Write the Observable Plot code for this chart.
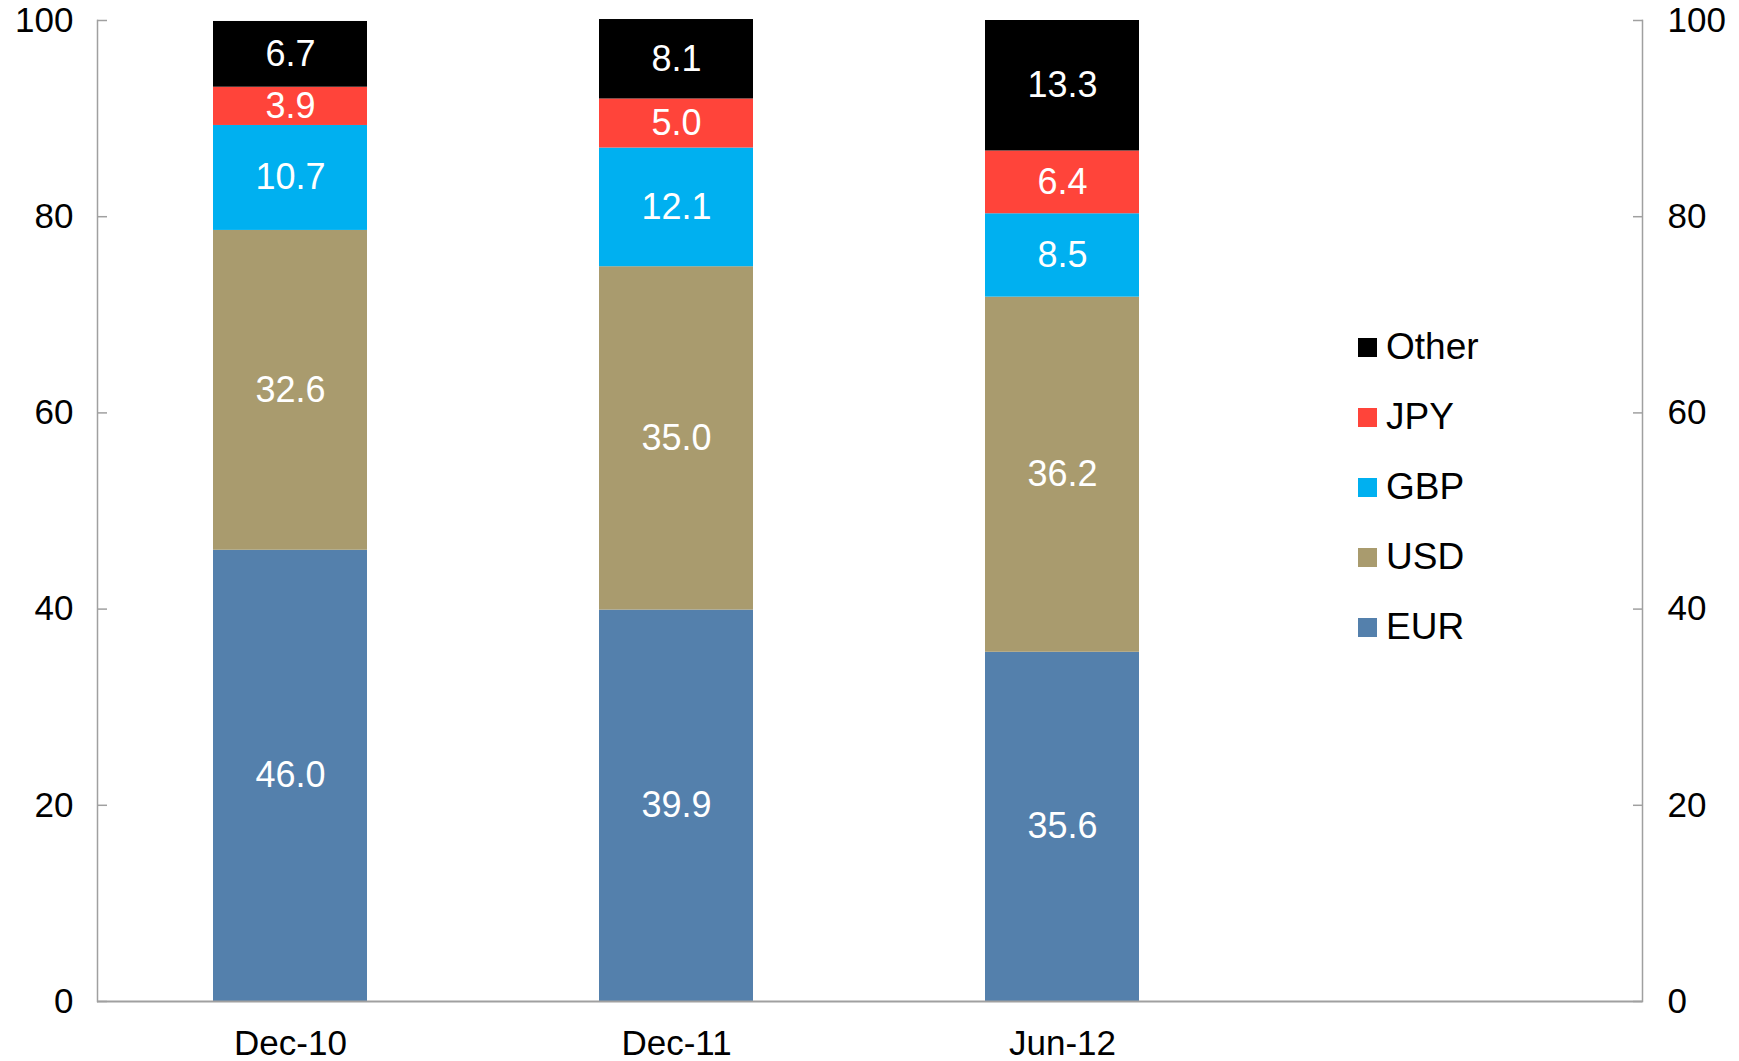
<!DOCTYPE html>
<html>
<head>
<meta charset="utf-8">
<script src="https://cdn.jsdelivr.net/npm/d3@7"></script>
<script src="https://cdn.jsdelivr.net/npm/@observablehq/plot@0.6"></script>
<style>
  html, body { margin: 0; padding: 0; background: #fff; }
  #wrap { position: relative; width: 1739px; height: 1061px; font-family: "Liberation Sans", Arial, sans-serif; }
  #legend { position: absolute; left: 1358px; top: 312px; }
  .lg-row { display: flex; align-items: center; height: 70px; font-size: 37px; color: #000; }
  .lg-sw { width: 19px; height: 19px; margin-right: 9px; }
</style>
</head>
<body>
<div id="wrap"><div id="legend"></div></div>
<script>
const categories = ["Dec-10", "Dec-11", "Jun-12"];
const series = ["EUR", "USD", "GBP", "JPY", "Other"];
const colors = ["#5480AC", "#A99B6E", "#00B0F0", "#FF443A", "#000000"];
const EUR = [46.0, 39.9, 35.6];
const USD = [32.6, 35.0, 36.2];
const GBP = [10.7, 12.1, 8.5];
const JPY = [3.9, 5.0, 6.4];
const Other = [6.7, 8.1, 13.3];
const yTicks = [0, 20, 40, 60, 80, 100];

const seriesValues = {EUR, USD, GBP, JPY, Other};
const data = [];
categories.forEach((c, i) => {
  series.forEach(s => data.push({cat: c, series: s, value: seriesValues[s][i]}));
});

const xDomain = [...categories, " "];
const font = "Liberation Sans, Arial, sans-serif";

const chart = Plot.plot({
  width: 1739,
  height: 1061,
  marginLeft: 97,
  marginRight: 97,
  marginTop: 20,
  marginBottom: 60,
  style: {fontFamily: font, fontSize: "35px", background: "#fff", color: "#000", overflow: "visible"},
  x: {domain: xDomain, paddingInner: 0.6, paddingOuter: 0.3, label: null},
  y: {domain: [0, 100], label: null},
  color: {domain: series, range: colors},
  marks: [
    Plot.barY(data, Plot.stackY({x: "cat", y: "value", z: "series", fill: "series", order: series})),
    Plot.text(data, Plot.stackY({x: "cat", y: "value", z: "series", order: series, text: d => d.value.toFixed(1), fill: "#fff", fontSize: 36})),
    Plot.axisY({anchor: "left", ticks: yTicks, tickSize: -10, tickPadding: 34, fontSize: 35, stroke: "#A0A0A0", strokeWidth: 1.5, color: "#000"}),
    Plot.axisY({anchor: "right", ticks: yTicks, tickSize: -10, tickPadding: 35, fontSize: 35, stroke: "#A0A0A0", strokeWidth: 1.5}),
    Plot.axisX({anchor: "bottom", tickSize: 0, tickPadding: 29, fontSize: 35, tickFormat: d => d.trim()}),
    Plot.ruleY([0], {stroke: "#A0A0A0", strokeWidth: 2}),
    Plot.frame({anchor: "left", stroke: "#A0A0A0", strokeWidth: 1.5}),
    Plot.frame({anchor: "right", stroke: "#A0A0A0", strokeWidth: 1.5})
  ]
});
document.getElementById("wrap").prepend(chart);

const legend = document.getElementById("legend");
[...series].reverse().forEach(s => {
  const row = document.createElement("div");
  row.className = "lg-row";
  const sw = document.createElement("div");
  sw.className = "lg-sw";
  sw.style.background = colors[series.indexOf(s)];
  const t = document.createElement("span");
  t.textContent = s;
  row.append(sw, t);
  legend.append(row);
});
</script>
</body>
</html>
